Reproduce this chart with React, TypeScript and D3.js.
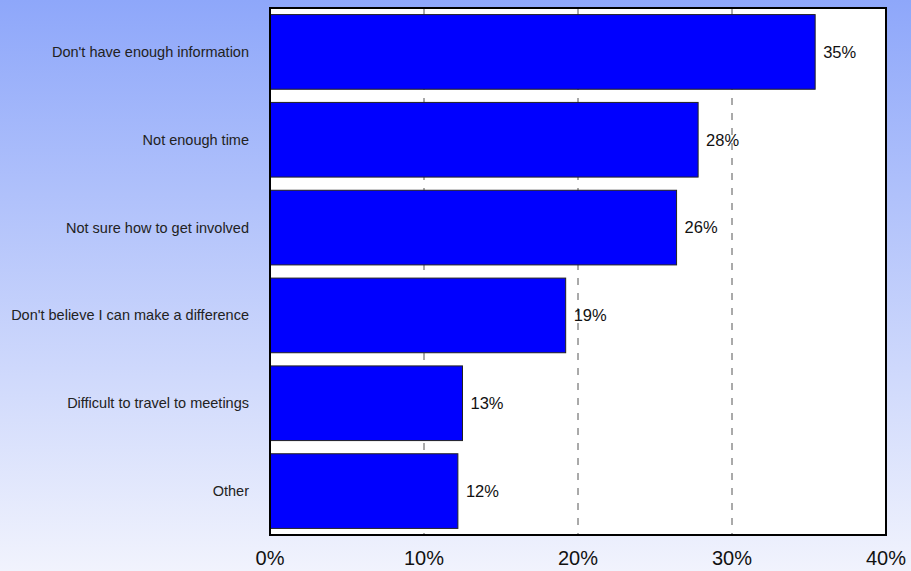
import React from "react";
import * as d3 from "d3";

const categories = [
  "Don't have enough information",
  "Not enough time",
  "Not sure how to get involved",
  "Don't believe I can make a difference",
  "Difficult to travel to meetings",
  "Other",
];
const values = [35.4, 27.8, 26.4, 19.2, 12.5, 12.2];
const valueLabels = ["35%", "28%", "26%", "19%", "13%", "12%"];
const xTicks = [0, 10, 20, 30, 40];

const W = 911;
const H = 571;
const plot = { left: 270, right: 886, top: 8, bottom: 535 };

export default function App() {
  const x = d3.scaleLinear().domain([0, 40]).range([plot.left, plot.right]);
  const y = d3
    .scaleBand<string>()
    .domain(categories)
    .range([plot.top, plot.bottom])
    .paddingInner(0.15)
    .paddingOuter(0.075);
  const font = "Arial, 'Liberation Sans', Helvetica, sans-serif";
  return (
    <svg
      width={W}
      height={H}
      style={{ position: "absolute", left: 0, top: 0, display: "block" }}
    >
      <defs>
        <linearGradient id="bg" x1="0" y1="0" x2="0" y2="1">
          <stop offset="0" stopColor="#8ea7fa" />
          <stop offset="1" stopColor="#f1f3fd" />
        </linearGradient>
      </defs>
      <rect x={0} y={0} width={W} height={H} fill="url(#bg)" />
      <rect
        x={plot.left}
        y={plot.top}
        width={plot.right - plot.left}
        height={plot.bottom - plot.top}
        fill="#ffffff"
      />
      {xTicks.slice(1, -1).map((t) => (
        <line
          key={t}
          x1={x(t)}
          x2={x(t)}
          y1={plot.top}
          y2={plot.bottom}
          stroke="#555"
          strokeWidth={1}
          strokeDasharray="7,8"
        />
      ))}
      {categories.map((c, i) => (
        <g key={c}>
          <rect
            x={x(0)}
            y={y(c)!}
            width={x(values[i]) - x(0)}
            height={y.bandwidth()}
            fill="#0000ff"
            stroke="#222"
            strokeWidth={1}
          />
          <text
            x={x(values[i]) + 8}
            y={y(c)! + y.bandwidth() / 2}
            dy="0.35em"
            fontFamily={font}
            fontSize={16.5}
            fill="#111"
          >
            {valueLabels[i]}
          </text>
          <text
            x={249}
            y={y(c)! + y.bandwidth() / 2}
            dy="0.35em"
            textAnchor="end"
            fontFamily={font}
            fontSize={14.5}
            fill="#222"
          >
            {c}
          </text>
        </g>
      ))}
      <rect
        x={plot.left}
        y={plot.top}
        width={plot.right - plot.left}
        height={plot.bottom - plot.top}
        fill="none"
        stroke="#000"
        strokeWidth={2}
      />
      {xTicks.map((t) => (
        <text
          key={t}
          x={x(t)}
          y={565}
          textAnchor="middle"
          fontFamily={font}
          fontSize={20}
          fill="#111"
        >
          {t + "%"}
        </text>
      ))}
    </svg>
  );
}
